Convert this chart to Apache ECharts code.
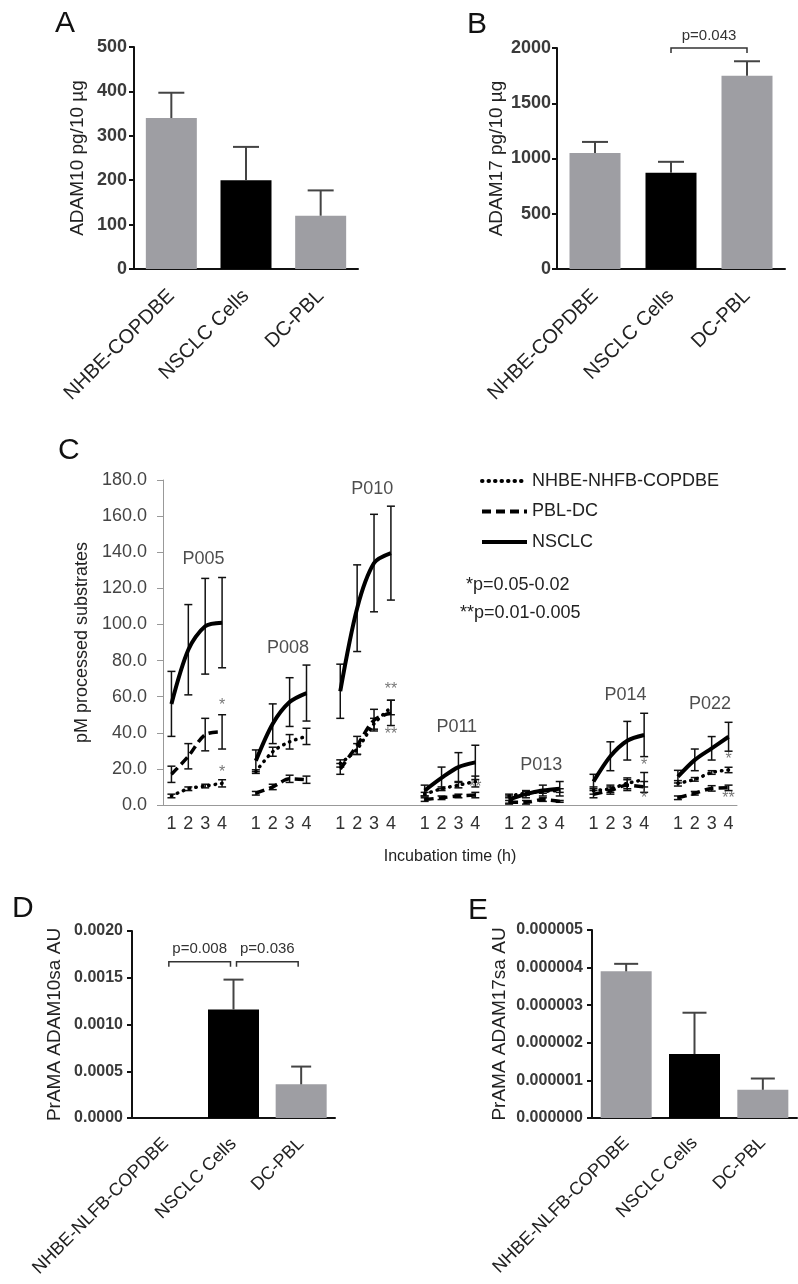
<!DOCTYPE html>
<html>
<head>
<meta charset="utf-8">
<title>ADAM10 / ADAM17 activity</title>
<script src="https://cdn.jsdelivr.net/npm/echarts@6/dist/echarts.min.js"></script>
<style>
  html, body { margin: 0; padding: 0; background: #fff; }
  #chart { width: 798px; height: 1284px; }
</style>
</head>
<body>
<div id="chart"></div>
<script>
// ---- panels A / B
var catsAB = ['NHBE-COPDBE', 'NSCLC Cells', 'DC-PBL'];
var adam10 = [340, 200, 120];
var adam10Err = [57, 75, 57];
var adam17 = [1050, 870, 1750];
var adam17Err = [100, 100, 130];

// ---- panels D / E
var catsDE = ['NHBE-NLFB-COPDBE', 'NSCLC Cells', 'DC-PBL'];
var prama10 = [0, 0.00116, 0.00036];
var prama10Err = [0, 0.00032, 0.00019];
var prama17 = [0.0000039, 0.0000017, 0.00000075];
var prama17Err = [0.0000002, 0.0000011, 0.0000003];

// ---- panel C (4 time points per patient)
var patients = ['P005', 'P008', 'P010', 'P011', 'P013', 'P014', 'P022'];
var hours = ['1', '2', '3', '4'];
var nsclc    = [[56, 86, 99, 101], [24.5, 45, 57, 62], [63, 109, 134, 139.5], [8, 15, 21, 23.6], [3, 6, 8, 9], [13, 27, 35.6, 38.8], [15.7, 25, 31.4, 37.8]];
var nsclcErr = [[18, 25, 26.5, 25], [6, 11, 13.5, 15.5], [15, 24, 27, 26], [3, 6, 8, 9.5], [2, 2, 3, 4], [4, 8, 10.7, 12], [3.5, 6, 6.5, 8]];
var pblDc    = [[17, 27, 39, 40.5], [6.5, 10, 14.5, 14], [20, 33, 47, 51], [3, 4, 5, 5.5], [1.5, 1.5, 3, 2], [6, 8, 11, 10], [4, 6.5, 9.2, 9.5]];
var pblDcErr = [[4.5, 7, 9, 9.5], [1, 1.5, 2, 2], [3, 5, 6, 7], [1, 1, 1, 1.5], [1, 1, 1, 0.5], [2, 2, 3, 3], [1, 1, 1.5, 1.5]];
var nhbe     = [[5, 9, 10.5, 12], [18.5, 29.5, 35, 38], [23, 31, 45, 54], [6, 9, 11, 13], [5, 6.5, 7.5, 8], [8, 9, 12, 14], [12, 14.2, 18, 19.4]];
var nhbeErr  = [[1, 1, 1, 2], [1, 2.5, 4, 4.5], [2, 3, 3, 4], [1, 1, 1.5, 3], [1, 1, 1, 1], [2, 2, 3, 4], [1.5, 1, 1, 1.5]];
var groupLabelY = [136, 87, 175, 43, 22, 61, 56];
// [slot, value, text]
var stars = [[3, 55, '*'], [3, 18, '*'], [13, 64, '**'], [13, 39, '**'], [18, 9.5, '**'], [28, 22, '*'], [28, 3.3, '*'], [33, 25, '*'], [33, 3.3, '**']];

var FONT = '"Liberation Sans", Arial, sans-serif';
var GREY = '#9e9ea3';
var barColors = [GREY, '#000', GREY];

// flatten groups into one category row, with an empty slot between groups
var cCats = [];
patients.forEach(function (p, gi) {
  hours.forEach(function (h) { cCats.push(h); });
  if (gi < patients.length - 1) cCats.push('');
});
function flat(groups) {
  var out = [];
  groups.forEach(function (g, gi) {
    g.forEach(function (v) { out.push(v); });
    if (gi < groups.length - 1) out.push(null);
  });
  return out;
}
function errData(vals, errs) {
  var out = [];
  vals.forEach(function (g, gi) {
    g.forEach(function (v, i) { out.push([gi * 5 + i, v, errs[gi][i]]); });
  });
  return out;
}

function errRenderer(capHalf, both, color, width) {
  return function (params, api) {
    var x = api.value(0), v = api.value(1), e = api.value(2);
    if (!e) return;
    var top = api.coord([x, v + e]);
    var bot = api.coord([x, both ? v - e : v]);
    var st = { stroke: color, lineWidth: width, fill: null };
    var kids = [
      { type: 'line', shape: { x1: top[0], y1: top[1], x2: bot[0], y2: bot[1] }, style: st },
      { type: 'line', shape: { x1: top[0] - capHalf, y1: top[1], x2: top[0] + capHalf, y2: top[1] }, style: st }
    ];
    if (both) kids.push({ type: 'line', shape: { x1: bot[0] - capHalf, y1: bot[1], x2: bot[0] + capHalf, y2: bot[1] }, style: st });
    return { type: 'group', children: kids };
  };
}

function bracketRenderer(texts, drop, inset) {
  return function (params, api) {
    var a = api.coord([api.value(0), api.value(2)]);
    var b = api.coord([api.value(1), api.value(2)]);
    var x1 = a[0] + inset, x2 = b[0] - inset, y = a[1];
    return {
      type: 'group',
      children: [
        { type: 'polyline', shape: { points: [[x1, y + drop], [x1, y], [x2, y], [x2, y + drop]] }, style: { stroke: '#333', lineWidth: 1.5, fill: null } },
        { type: 'text', x: (x1 + x2) / 2, y: y - 5, style: { text: texts[params.dataIndex], font: '15px ' + FONT, fill: '#333', align: 'center', verticalAlign: 'bottom' } }
      ]
    };
  };
}

function barX(grid, cats, fontSize, margin) {
  return {
    type: 'category', gridIndex: grid, data: cats,
    axisLine: { lineStyle: { color: '#111', width: 2 } },
    axisTick: { alignWithLabel: true, length: 6, lineStyle: { width: 2, color: '#111' } },
    axisLabel: { rotate: 45, interval: 0, margin: margin, fontSize: fontSize, color: '#222', fontFamily: FONT }
  };
}
function plain(v) { return String(v); }
function barY(grid, max, interval, name, gap, fmt, fontSize, margin) {
  return {
    type: 'value', gridIndex: grid, min: 0, max: max, interval: interval,
    name: name, nameLocation: 'middle', nameGap: gap,
    nameTextStyle: { fontSize: 19, color: '#222', fontFamily: FONT },
    splitLine: { show: false },
    axisLine: { show: true, lineStyle: { color: '#111', width: 2 } },
    axisTick: { show: true, length: 5, lineStyle: { width: 2, color: '#111' } },
    axisLabel: { fontSize: fontSize, color: '#3a3a3a', fontWeight: 'bold', margin: margin, fontFamily: FONT, formatter: fmt }
  };
}
function bars(xi, yi, vals) {
  return {
    type: 'bar', xAxisIndex: xi, yAxisIndex: yi, barWidth: 51, silent: true,
    data: vals.map(function (v, i) { return { value: v, itemStyle: { color: barColors[i] } }; })
  };
}
function barErr(xi, yi, vals, errs, cap) {
  return {
    type: 'custom', xAxisIndex: xi, yAxisIndex: yi, silent: true, z: 3,
    renderItem: errRenderer(cap, false, '#444', 2),
    data: vals.map(function (v, i) { return [i, v, errs[i]]; })
  };
}

var chart = echarts.init(document.getElementById('chart'));

var option = {
  animation: false,
  backgroundColor: '#fff',
  textStyle: { fontFamily: FONT },
  grid: [
    { left: 134, top: 47, width: 224, height: 222 },
    { left: 557, top: 48, width: 228, height: 221 },
    { left: 163, top: 480, width: 574, height: 325 },
    { left: 132, top: 931, width: 203, height: 187 },
    { left: 592, top: 930, width: 205, height: 188 }
  ],
  legend: {
    data: ['NHBE-NHFB-COPDBE', 'PBL-DC', 'NSCLC'],
    orient: 'vertical', left: 475, top: 467,
    itemWidth: 45, itemHeight: 20, itemGap: 12.5, selectedMode: false,
    itemStyle: { opacity: 0 },
    lineStyle: { width: 4 },
    textStyle: { fontSize: 18, color: '#222', fontFamily: FONT }
  },
  xAxis: [
    barX(0, catsAB, 20, 24),
    barX(1, catsAB, 20, 24),
    {
      type: 'category', gridIndex: 2, data: cCats,
      name: 'Incubation time (h)', nameLocation: 'middle', nameGap: 44,
      nameTextStyle: { fontSize: 16, color: '#222', fontFamily: FONT },
      axisLine: { lineStyle: { color: '#999', width: 1 } },
      axisTick: { interval: 0, length: 6, lineStyle: { color: '#999' } },
      axisLabel: { interval: 0, fontSize: 18, color: '#333', margin: 10, fontFamily: FONT }
    },
    { type: 'value', gridIndex: 2, min: 0, max: 34, show: false },
    barX(3, catsDE, 18, 23),
    barX(4, catsDE, 18, 22)
  ],
  yAxis: [
    barY(0, 500, 100, 'ADAM10 pg/10 µg', 47, plain, 18, 7),
    barY(1, 2000, 500, 'ADAM17 pg/10 µg', 51, plain, 18, 6),
    {
      type: 'value', gridIndex: 2, min: 0, max: 180, interval: 20,
      name: 'pM processed substrates', nameLocation: 'middle', nameGap: 68,
      nameTextStyle: { fontSize: 18, color: '#222', fontFamily: FONT },
      splitLine: { show: false },
      axisLine: { show: true, lineStyle: { color: '#999', width: 1 } },
      axisTick: { show: true, length: 6, lineStyle: { color: '#999' } },
      axisLabel: { fontSize: 18, color: '#444', margin: 16, fontFamily: FONT, formatter: function (v) { return v.toFixed(1); } }
    },
    barY(3, 0.002, 0.0005, 'PrAMA ADAM10sa AU', 68, function (v) { return v.toFixed(4); }, 16, 9),
    barY(4, 0.000005, 0.000001, 'PrAMA ADAM17sa AU', 83, function (v) { return v.toFixed(6); }, 16, 9)
  ],
  series: [
    // A
    bars(0, 0, adam10),
    barErr(0, 0, adam10, adam10Err, 13),
    // B
    bars(1, 1, adam17),
    barErr(1, 1, adam17, adam17Err, 13),
    {
      type: 'custom', xAxisIndex: 1, yAxisIndex: 1, silent: true,
      renderItem: bracketRenderer(['p=0.043'], 5, 0),
      data: [[1, 2, 2000]]
    },
    // C lines
    {
      name: 'NHBE-NHFB-COPDBE', type: 'line', xAxisIndex: 2, yAxisIndex: 2, symbol: 'none', smooth: 0.3,
      lineStyle: { color: '#000', width: 3.5, type: [0.5, 6], cap: 'round' }, itemStyle: { color: '#000' },
      data: flat(nhbe)
    },
    {
      name: 'PBL-DC', type: 'line', xAxisIndex: 2, yAxisIndex: 2, symbol: 'none', smooth: 0.3,
      lineStyle: { color: '#000', width: 3.5, type: [9, 5] }, itemStyle: { color: '#000' },
      data: flat(pblDc)
    },
    {
      name: 'NSCLC', type: 'line', xAxisIndex: 2, yAxisIndex: 2, symbol: 'none', smooth: 0.3,
      lineStyle: { color: '#000', width: 4 }, itemStyle: { color: '#000' },
      data: flat(nsclc)
    },
    { type: 'custom', xAxisIndex: 2, yAxisIndex: 2, silent: true, renderItem: errRenderer(4, true, '#111', 1.5), data: errData(nhbe, nhbeErr) },
    { type: 'custom', xAxisIndex: 2, yAxisIndex: 2, silent: true, renderItem: errRenderer(4, true, '#111', 1.5), data: errData(pblDc, pblDcErr) },
    { type: 'custom', xAxisIndex: 2, yAxisIndex: 2, silent: true, renderItem: errRenderer(4, true, '#111', 1.5), data: errData(nsclc, nsclcErr) },
    {
      type: 'scatter', xAxisIndex: 2, yAxisIndex: 2, symbolSize: 0, silent: true,
      label: { show: true, position: 'inside', fontSize: 16, color: '#555', formatter: function (p) { return stars[p.dataIndex][2]; } },
      data: stars.map(function (s) { return [s[0], s[1]]; })
    },
    {
      type: 'scatter', xAxisIndex: 3, yAxisIndex: 2, symbolSize: 0, silent: true,
      label: { show: true, position: 'inside', fontSize: 18, color: '#222', formatter: function (p) { return patients[p.dataIndex]; } },
      data: patients.map(function (p, gi) { return [gi * 5 + 2.4, groupLabelY[gi]]; })
    },
    // D
    bars(4, 3, prama10),
    barErr(4, 3, prama10, prama10Err, 10),
    {
      type: 'custom', xAxisIndex: 4, yAxisIndex: 3, silent: true,
      renderItem: bracketRenderer(['p=0.008', 'p=0.036'], 5, 3),
      data: [[0, 1, 0.00167], [1, 2, 0.00167]]
    },
    // E
    bars(5, 4, prama17),
    barErr(5, 4, prama17, prama17Err, 12)
  ],
  graphic: [
    { type: 'text', left: 55, top: 9, style: { text: 'A', font: '30px ' + FONT, fill: '#111' } },
    { type: 'text', left: 467, top: 10, style: { text: 'B', font: '30px ' + FONT, fill: '#111' } },
    { type: 'text', left: 58, top: 436, style: { text: 'C', font: '30px ' + FONT, fill: '#111' } },
    { type: 'text', left: 12, top: 894, style: { text: 'D', font: '30px ' + FONT, fill: '#111' } },
    { type: 'text', left: 468, top: 896, style: { text: 'E', font: '30px ' + FONT, fill: '#111' } },
    { type: 'text', left: 466, top: 576, style: { text: '*p=0.05-0.02', font: '18px ' + FONT, fill: '#222' } },
    { type: 'text', left: 460, top: 604, style: { text: '**p=0.01-0.005', font: '18px ' + FONT, fill: '#222' } }
  ]
};

chart.setOption(option);
</script>
</body>
</html>
